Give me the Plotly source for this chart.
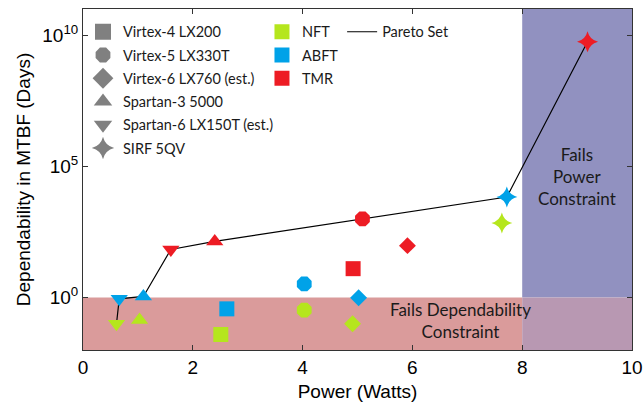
import plotly.graph_objects as go

# ---------------- data ----------------
devices = ["Virtex-4 LX200", "Virtex-5 LX330T", "Virtex-6 LX760 (est.)",
           "Spartan-3 5000", "Spartan-6 LX150T (est.)", "SIRF 5QV"]
device_symbols = ["square", "octagon", "diamond", "triangle-up", "triangle-down", "star-diamond"]
device_sizes = [15, 16, 13, 15, 15, 15]

techniques = ["NFT", "ABFT", "TMR"]
technique_colors = ["#B5E61D", "#00A2E8", "#ED1C24"]

# power (Watts) and MTBF (days), per device in the order above
nft_power = [2.51, 4.03, 4.91, 1.03, 0.61, 7.63]
nft_mtbf = [0.039, 0.33, 0.10, 0.14, 0.10, 690]
abft_power = [2.62, 4.03, 5.02, 1.10, 0.66, 7.72]
abft_mtbf = [0.37, 3.3, 0.98, 1.1, 0.89, 6800]
tmr_power = [4.92, 5.09, 5.91, 2.40, 1.60, 9.19]
tmr_mtbf = [12.6, 1000, 95, 138, 68, 5.6e9]

# Pareto set as (technique, device index) in order of increasing power
pareto_set = [("NFT", 4), ("ABFT", 4), ("ABFT", 3), ("TMR", 4), ("TMR", 3),
              ("TMR", 1), ("ABFT", 5), ("TMR", 5)]

power_limit = 8          # Watts
mtbf_limit = 1           # days
x_range = [0, 10]
y_log_range = [-2, 11]
y_tick_vals = [1, 1e5, 1e10]
y_tick_text = ["10<sup>0</sup>", "10<sup>5</sup>", "10<sup>10</sup>"]
x_tick_vals = [0, 2, 4, 6, 8, 10]

powers = {"NFT": nft_power, "ABFT": abft_power, "TMR": tmr_power}
mtbfs = {"NFT": nft_mtbf, "ABFT": abft_mtbf, "TMR": tmr_mtbf}

y_min = 10 ** y_log_range[0]
y_max = 10 ** y_log_range[1]

fig = go.Figure()

# constraint regions
pink = "#DA9B9B"
purple = "#9191C0"
mauve = "#B898B2"
fig.add_trace(go.Scatter(x=[x_range[0], power_limit, power_limit, x_range[0]],
                         y=[y_min, y_min, mtbf_limit, mtbf_limit],
                         fill="toself", fillcolor=pink, mode="none",
                         showlegend=False, hoverinfo="skip"))
fig.add_trace(go.Scatter(x=[power_limit, x_range[1], x_range[1], power_limit],
                         y=[mtbf_limit, mtbf_limit, y_max, y_max],
                         fill="toself", fillcolor=purple, mode="none",
                         showlegend=False, hoverinfo="skip"))
fig.add_trace(go.Scatter(x=[power_limit, x_range[1], x_range[1], power_limit],
                         y=[y_min, y_min, mtbf_limit, mtbf_limit],
                         fill="toself", fillcolor=mauve, mode="none",
                         showlegend=False, hoverinfo="skip"))

# Pareto line
fig.add_trace(go.Scatter(x=[powers[t][i] for t, i in pareto_set],
                         y=[mtbfs[t][i] for t, i in pareto_set],
                         mode="lines", line=dict(color="black", width=1.2),
                         showlegend=False, hoverinfo="skip"))

# data points
for t, c in zip(techniques, technique_colors):
    for i, d in enumerate(devices):
        fig.add_trace(go.Scatter(x=[powers[t][i]], y=[mtbfs[t][i]], mode="markers",
                                 marker=dict(symbol=device_symbols[i], size=device_sizes[i],
                                             color=c, line=dict(width=0)),
                                 showlegend=False, name=f"{t} {d}"))

# legends
gray = "#808080"
for i, d in enumerate(devices):
    fig.add_trace(go.Scatter(x=[None], y=[None], mode="markers", name=d,
                             marker=dict(symbol=device_symbols[i], size=16, color=gray,
                                         line=dict(width=0)),
                             legend="legend", legendgroup=f"d{i}"))
for t, c in zip(techniques, technique_colors):
    fig.add_trace(go.Scatter(x=[None], y=[None], mode="markers", name=t,
                             marker=dict(symbol="square", size=15, color=c, line=dict(width=0)),
                             legend="legend2", legendgroup=f"t{t}"))
fig.add_trace(go.Scatter(x=[None], y=[None], mode="lines", name="Pareto Set",
                         line=dict(color="black", width=1.2), legend="legend3"))

legend_font = dict(family="Lato", size=14.5, color="#1a1a1a")
common = dict(font=legend_font, bgcolor="rgba(0,0,0,0)", xanchor="left", yanchor="top",
              traceorder="grouped", tracegroupgap=1.4, itemclick=False)
fig.update_layout(
    legend=dict(x=0.0, y=0.98, **common),
    legend2=dict(x=0.326, y=0.98, **common),
    legend3=dict(x=0.472, y=0.98, itemwidth=30, **common),
)

text_font = dict(family="Lato", size=17, color="#1a1a1a")
fig.add_annotation(x=6.87, y=-0.89, xref="x", yref="y", showarrow=False,
                   text="Fails Dependability<br>Constraint", font=text_font, align="center")
fig.add_annotation(x=9.0, y=4.62, xref="x", yref="y", showarrow=False,
                   text="Fails<br>Power<br>Constraint", font=text_font, align="center")

axis_font = dict(family="Liberation Sans, Arial", size=19, color="black")
fig.update_xaxes(range=x_range, tickvals=x_tick_vals, ticks="inside", ticklen=5,
                 tickcolor="#333", showline=True, linecolor="#333", linewidth=1,
                 mirror="ticks", showgrid=False, zeroline=False, tickfont=axis_font,
                 automargin=False,
                 title=dict(text="Power (Watts)", font=axis_font, standoff=9))
fig.update_yaxes(type="log", range=y_log_range, tickvals=y_tick_vals, ticktext=y_tick_text,
                 ticks="inside", ticklen=5, tickcolor="#333", showline=True,
                 linecolor="#333", linewidth=1, mirror="ticks", showgrid=False,
                 zeroline=False, tickfont=axis_font, automargin=False,
                 title=dict(text="Dependability in MTBF (Days)", font=axis_font, standoff=6))

fig.update_layout(width=643, height=402, margin=dict(l=83, r=11, t=9, b=52),
                  plot_bgcolor="white", paper_bgcolor="white", showlegend=True)

fig.write_html("out.html")
